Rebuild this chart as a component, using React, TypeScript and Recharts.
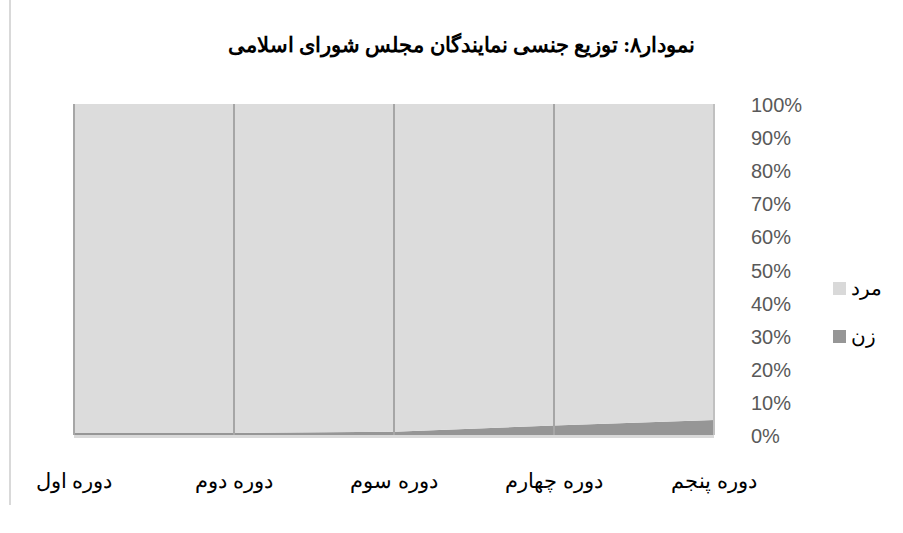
import React from 'react';
import { AreaChart, Area, XAxis, YAxis, ReferenceLine } from 'recharts';

const categories = ['دوره اول', 'دوره دوم', 'دوره سوم', 'دوره چهارم', 'دوره پنجم'];
const women = [0.6, 0.6, 1.0, 2.9, 4.5];
const men = [99.4, 99.4, 99.0, 97.1, 95.5];
const yTicks = [0, 10, 20, 30, 40, 50, 60, 70, 80, 90, 100];
const seriesNames = { women: 'زن', men: 'مرد' };
const title = 'نمودار۸: توزیع جنسی نمایندگان مجلس شورای اسلامی';

const data = categories.map((c, i) => ({ name: c, women: women[i], men: men[i] }));

const PERSIAN_FONT = "'Times New Roman', 'Liberation Serif', 'DejaVu Serif', serif";

const XTick = (props: any) => {
  const { x, y, payload } = props;
  return (
    <text x={x} y={y + 45} textAnchor="middle" fill="#000" fontSize={21} fontFamily={PERSIAN_FONT}>
      {payload.value}
    </text>
  );
};

const YTick = (props: any) => {
  const { x, y, payload } = props;
  return (
    <text x={x + 29} y={y + 8} textAnchor="start" fill="#595959" fontSize={20} fontFamily="'Liberation Sans', Arial, sans-serif">
      {payload.value + '%'}
    </text>
  );
};

const legendItems = [
  { label: seriesNames.men, color: '#d9d9d9' },
  { label: seriesNames.women, color: '#969696' },
];

export default function App() {
  return (
    <div style={{ position: 'absolute', left: 0, top: 0, width: 903, height: 533, background: '#fff', overflow: 'hidden' }}>
      <div style={{ position: 'absolute', left: 9, top: 0, width: 2, height: 505, background: '#d9d9d9' }} />
      <div
        style={{
          position: 'absolute', left: 0, top: 33, width: 903, textAlign: 'center', direction: 'rtl',
          fontFamily: PERSIAN_FONT, fontWeight: 'bold', fontSize: 21, color: '#000', paddingLeft: 20, boxSizing: 'border-box',
        }}
      >
        {title}
      </div>
      <div style={{ position: 'absolute', left: 0, top: 0 }}>
        <AreaChart width={903} height={533} data={data} margin={{ top: 104, right: 129, bottom: 58, left: 74 }}>
          <XAxis
            dataKey="name"
            height={40}
            tick={<XTick />}
            tickLine={false}
            axisLine={{ stroke: '#d9d9d9', strokeWidth: 3, transform: 'translate(0, 1.5)' }}
            interval={0}
          />
          <YAxis
            orientation="right"
            width={60}
            domain={[0, 100]}
            ticks={yTicks}
            tick={<YTick />}
            tickLine={false}
            axisLine={false}
            interval={0}
          />
          <Area type="linear" dataKey="women" stackId="a" fill="#969696" fillOpacity={1} stroke="none" isAnimationActive={false} name={seriesNames.women} />
          <Area type="linear" dataKey="men" stackId="a" fill="#dcdcdc" fillOpacity={1} stroke="none" isAnimationActive={false} name={seriesNames.men} />
          {categories.slice(0, 4).map((c) => (
            <ReferenceLine key={c} x={c} stroke="#a6a6a6" strokeWidth={2} />
          ))}
          <ReferenceLine x={categories[4]} stroke="#c0c0c0" strokeWidth={2} />
        </AreaChart>
      </div>
      <div style={{ position: 'absolute', left: 833, top: 264, direction: 'ltr' }}>
        {legendItems.map((it) => (
          <div key={it.label} style={{ display: 'flex', alignItems: 'center', height: 48 }}>
            <span style={{ display: 'inline-block', width: 13, height: 13, background: it.color, marginRight: 5 }} />
            <span style={{ fontFamily: PERSIAN_FONT, fontSize: 20, color: '#000' }}>{it.label}</span>
          </div>
        ))}
      </div>
    </div>
  );
}
